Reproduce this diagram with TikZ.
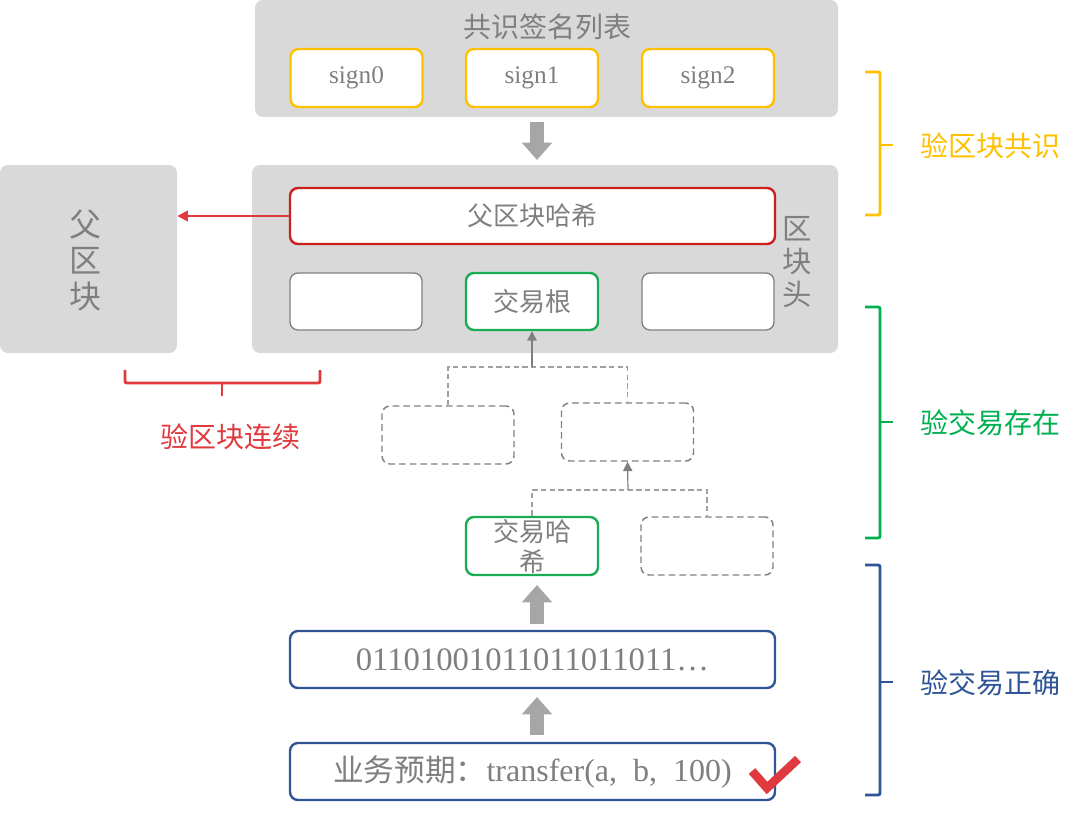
\documentclass[tikz,border=0pt]{standalone}
\usepackage{fontspec}
\setmainfont{Liberation Serif}
\newfontfamily\cjk{Noto Sans CJK SC}
\usetikzlibrary{arrows.meta,calc}
\definecolor{panelgray}{HTML}{D9D9D9}
\definecolor{txtgray}{HTML}{7F7F7F}
\definecolor{boxgray}{HTML}{808080}
\definecolor{linegray}{HTML}{A0A0A0}
\definecolor{blockgray}{HTML}{A6A6A6}
\definecolor{cyellow}{HTML}{FFC000}
\definecolor{cred}{HTML}{C9211E}
\definecolor{lred}{HTML}{E0393E}
\definecolor{cgreen}{HTML}{1AAB55}
\definecolor{lgreen}{HTML}{00B050}
\definecolor{cblue}{HTML}{2F5597}
\begin{document}
\begin{tikzpicture}[x=0.75pt,y=-0.75pt,
  panel/.style={fill=panelgray,draw=none,rounded corners=6pt,inner sep=0pt},
  box/.style={draw,fill=white,rounded corners=6pt,line width=1.8pt,minimum width=99pt,minimum height=43.5pt,inner sep=0pt,text=txtgray},
  ybox/.style={box,draw=cyellow,font=\fontsize{19}{22}\selectfont},
  rbox/.style={box,draw=cred},
  gbox/.style={box,draw=cgreen},
  bbox/.style={box,draw=cblue},
  pbox/.style={box,draw=boxgray,line width=1pt},
  dbox/.style={box,draw=boxgray,line width=1.1pt,dash pattern=on 5pt off 3pt},
  cjkt/.style={font=\cjk\fontsize{19.5}{22}\selectfont},
  treeline/.style={draw=linegray,line width=0.8pt,dash pattern=on 4pt off 2.5pt},
  treearrow/.style={draw=txtgray,line width=0.9pt,-{Triangle[length=7pt,width=7pt]}},
  blockarrow/.style={draw=blockgray,line width=10pt,-{Triangle[length=13pt,width=22pt]}},
  redarrow/.style={draw=lred,line width=1.5pt,-{Triangle[length=8pt,width=8pt]}},
  brace/.style={line width=2.2pt,rounded corners=1.5pt},
  sidelbl/.style={font=\cjk\fontsize{21}{24}\selectfont}
]
\useasboundingbox (0,0) rectangle (1080,831);

% consensus panel
\node[panel,minimum width=437.25pt,minimum height=87.75pt] (cons) at (546.5,58.5) {};
\node[font=\cjk\fontsize{21}{24}\selectfont,text=txtgray] (ttl) at (547,27) {共识签名列表};
\node[ybox] (s0) at (356.5,78) {sign0};
\node[ybox] (s1) at (532,78) {sign1};
\node[ybox] (s2) at (708,78) {sign2};

% header panel
\node[panel,minimum width=439.5pt,minimum height=141pt] (header) at (545,259) {};
\node[panel,minimum width=132.75pt,minimum height=141pt] (parent) at (88.5,259) {};
\node[font=\cjk\fontsize{24}{27}\selectfont,text=txtgray,align=center] (plbl) at (85,260) {父\\区\\块};
\node[rbox,minimum width=363.75pt,minimum height=42pt,cjkt] (phash) at (532.5,216) {父区块哈希};
\node[pbox,minimum height=42.75pt] (h1) at (356,301.5) {};
\node[gbox,minimum height=42.75pt,cjkt] (root) at (532,301.5) {交易根};
\node[pbox,minimum height=42.75pt] (h3) at (708,301.5) {};
\node[font=\cjk\fontsize{22}{25}\selectfont,text=txtgray,align=center] (hlbl) at (797,262) {区\\块\\头};

% block arrow consensus -> header
\coordinate (ba1) at (537,117);
\coordinate (ba2) at (537,165);
\draw[blockarrow,shorten <=3.75pt,shorten >=3.75pt] (ba1) -- (ba2);

% red arrow
\draw[redarrow] (phash.west) -- (phash.west -| parent.east);

% merkle tree
\node[dbox] (dA) at (448,435) {};
\node[dbox] (dB) at (627.5,432) {};
\node[gbox,cjkt,align=center,font=\cjk\fontsize{19.5}{22.5}\selectfont] (txhash) at (532,546) {交易哈\\希};
\node[dbox] (dC) at (707,546) {};
\coordinate (j1) at (532,367);
\coordinate (j2) at (628,490);
\draw[treeline] (dA.north) |- (j1) -| (dB.north);
\draw[treearrow] (j1) -- (root.south);
\draw[treeline] (txhash.north) |- (j2) -| (dC.north);
\draw[treearrow] (j2) -- (dB.south);

% lower boxes
\node[bbox,minimum width=363.75pt,minimum height=42.75pt,font=\fontsize{24.5}{26}\selectfont] (bin) at (532.5,659.5) {01101001011011011011…};
\node[bbox,minimum width=363.75pt,minimum height=42.75pt,font=\fontsize{24}{26}\selectfont] (biz) at (532.5,771.5) {{\cjk\fontsize{23}{26}\selectfont 业务预期：}transfer(a,\ \ b,\ \ 100)};
\coordinate (ba3) at (537,631);
\coordinate (ba4) at (537,575);
\draw[blockarrow,shorten <=5.25pt,shorten >=7.5pt] (ba3) -- (ba4);
\coordinate (ba5) at (537,743);
\coordinate (ba6) at (537,688);
\draw[blockarrow,shorten <=6pt,shorten >=6.75pt] (ba5) -- (ba6);

% check mark
\draw[lred,line width=6.5pt] (752,771) -- (767,788) -- (798,759);

% braces right
\draw[brace,cyellow] (865,72) -- (880,72) -- (880,215) -- (865,215);
\draw[cyellow,line width=2.2pt] (880,145) -- (893,145);
\node[sidelbl,text=cyellow] (l1) at (990,146) {验区块共识};
\draw[brace,lgreen] (865,307) -- (880,307) -- (880,538) -- (865,538);
\draw[lgreen,line width=2.2pt] (880,422) -- (893,422);
\node[sidelbl,text=lgreen] (l2) at (990,423) {验交易存在};
\draw[brace,cblue] (865,565) -- (880,565) -- (880,795) -- (865,795);
\draw[cblue,line width=2.2pt] (880,682) -- (893,682);
\node[sidelbl,text=cblue] (l3) at (990,683) {验交易正确};

% brace below parent
\draw[brace,lred] (125,370) -- (125,383) -- (320,383) -- (320,370);
\draw[lred,line width=2.2pt] (222,383) -- (222,396);
\node[sidelbl,text=lred] (l4) at (230,437) {验区块连续};
\end{tikzpicture}
\end{document}
